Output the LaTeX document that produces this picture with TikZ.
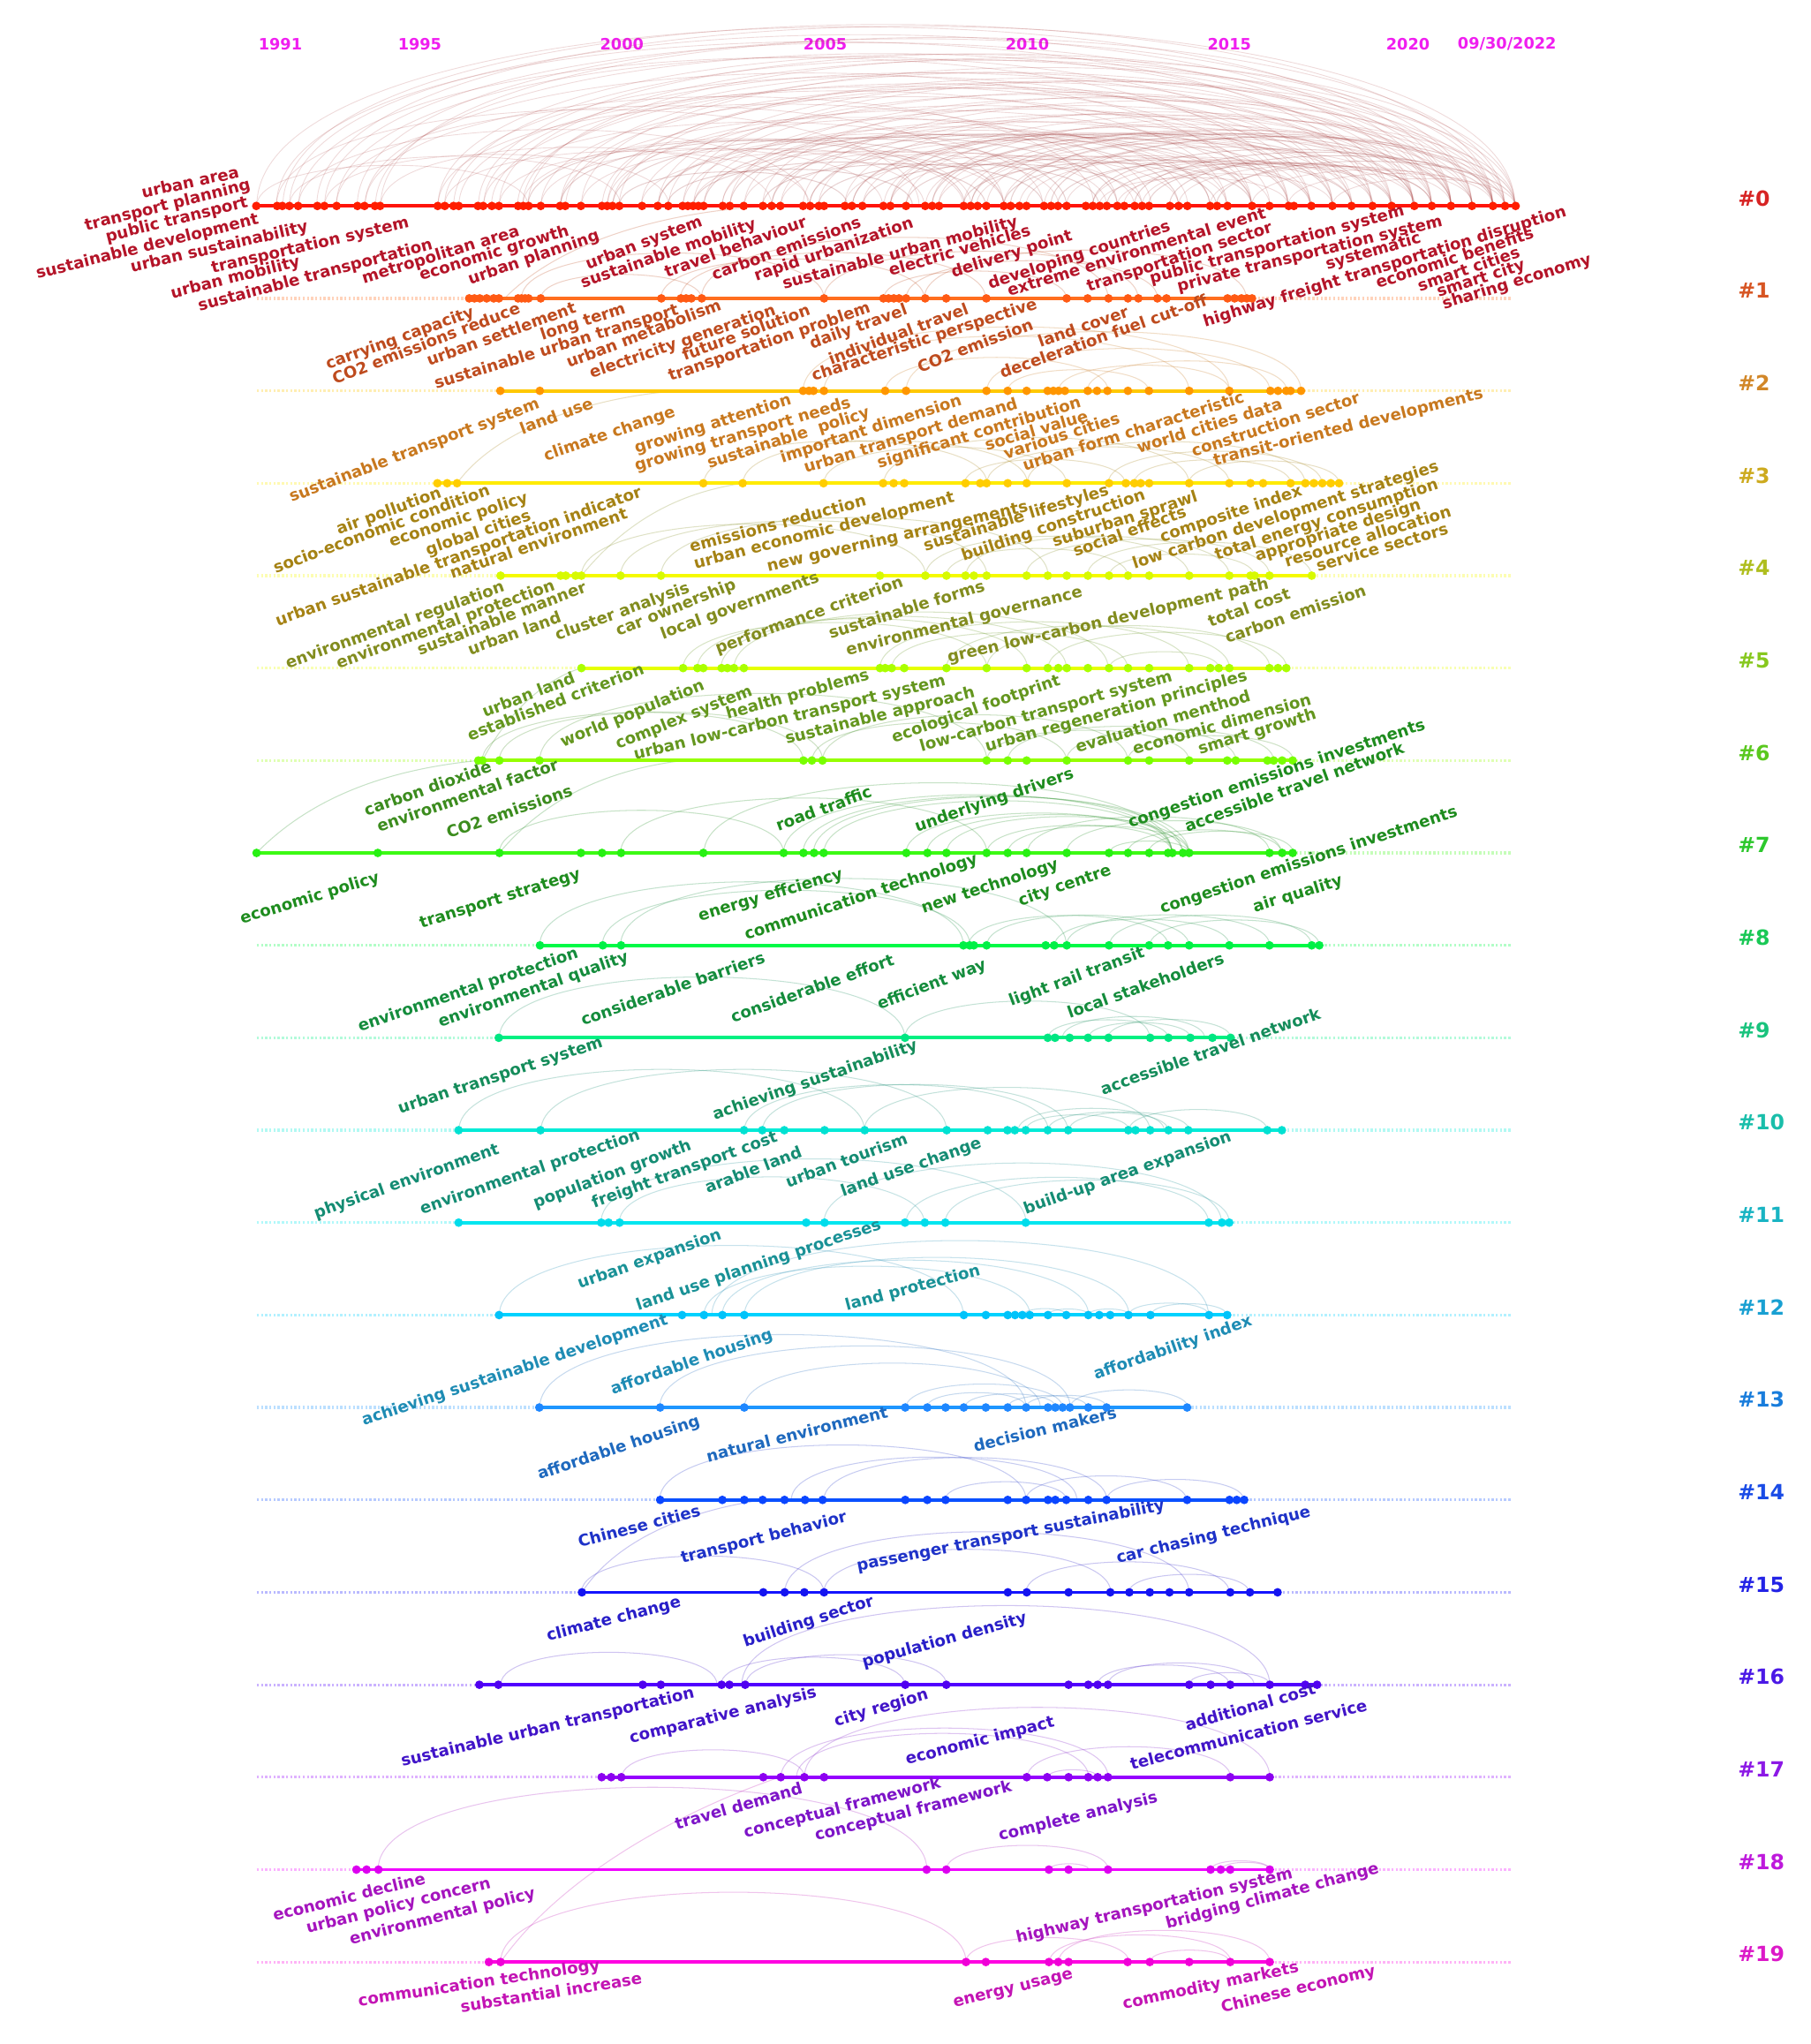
\documentclass[tikz,border=0pt]{standalone}
\usepackage{fontspec}
\setmainfont{DejaVu Sans}
% line colours
\definecolor{L0}{RGB}{255,20,10}\definecolor{L1}{RGB}{255,110,30}\definecolor{L2}{RGB}{255,200,0}\definecolor{L3}{RGB}{255,235,0}
\definecolor{L4}{RGB}{245,250,0}\definecolor{L5}{RGB}{230,255,0}\definecolor{L6}{RGB}{150,255,0}\definecolor{L7}{RGB}{60,250,20}
\definecolor{L8}{RGB}{0,250,70}\definecolor{L9}{RGB}{0,240,130}\definecolor{L10}{RGB}{0,235,215}\definecolor{L11}{RGB}{0,230,240}
\definecolor{L12}{RGB}{0,210,255}\definecolor{L13}{RGB}{30,150,255}\definecolor{L14}{RGB}{10,80,255}\definecolor{L15}{RGB}{20,20,255}
\definecolor{L16}{RGB}{80,0,255}\definecolor{L17}{RGB}{150,0,255}\definecolor{L18}{RGB}{240,0,255}\definecolor{L19}{RGB}{255,0,225}
% dot colours
\definecolor{D0}{RGB}{255,30,0}\definecolor{D1}{RGB}{255,90,20}\definecolor{D2}{RGB}{255,150,0}\definecolor{D3}{RGB}{255,205,0}
\definecolor{D4}{RGB}{215,250,0}\definecolor{D5}{RGB}{170,255,0}\definecolor{D6}{RGB}{120,255,0}\definecolor{D7}{RGB}{40,240,20}
\definecolor{D8}{RGB}{0,240,70}\definecolor{D9}{RGB}{0,230,130}\definecolor{D10}{RGB}{0,225,210}\definecolor{D11}{RGB}{0,220,235}
\definecolor{D12}{RGB}{0,195,250}\definecolor{D13}{RGB}{30,135,255}\definecolor{D14}{RGB}{10,70,255}\definecolor{D15}{RGB}{20,20,240}
\definecolor{D16}{RGB}{80,0,240}\definecolor{D17}{RGB}{140,0,240}\definecolor{D18}{RGB}{220,0,240}\definecolor{D19}{RGB}{240,0,215}
% text colours
\definecolor{T0}{RGB}{180,20,40}\definecolor{T1}{RGB}{190,75,30}\definecolor{T2}{RGB}{200,120,30}\definecolor{T3}{RGB}{165,130,20}
\definecolor{T4}{RGB}{130,140,30}\definecolor{T5}{RGB}{100,150,30}\definecolor{T6}{RGB}{60,140,30}\definecolor{T7}{RGB}{30,140,30}
\definecolor{T8}{RGB}{20,140,60}\definecolor{T9}{RGB}{20,140,90}\definecolor{T10}{RGB}{20,140,115}\definecolor{T11}{RGB}{25,145,150}
\definecolor{T12}{RGB}{30,140,180}\definecolor{T13}{RGB}{30,105,190}\definecolor{T14}{RGB}{30,50,200}\definecolor{T15}{RGB}{40,30,200}
\definecolor{T16}{RGB}{65,20,200}\definecolor{T17}{RGB}{125,20,200}\definecolor{T18}{RGB}{165,20,190}\definecolor{T19}{RGB}{195,20,180}
% cluster label colours
\definecolor{C0}{RGB}{215,35,35}\definecolor{C1}{RGB}{215,85,35}\definecolor{C2}{RGB}{210,135,40}\definecolor{C3}{RGB}{205,170,30}
\definecolor{C4}{RGB}{175,190,30}\definecolor{C5}{RGB}{135,200,30}\definecolor{C6}{RGB}{90,200,30}\definecolor{C7}{RGB}{45,200,45}
\definecolor{C8}{RGB}{25,200,85}\definecolor{C9}{RGB}{25,195,125}\definecolor{C10}{RGB}{25,190,170}\definecolor{C11}{RGB}{25,180,195}
\definecolor{C12}{RGB}{25,160,210}\definecolor{C13}{RGB}{25,125,220}\definecolor{C14}{RGB}{25,75,230}\definecolor{C15}{RGB}{35,35,230}
\definecolor{C16}{RGB}{75,25,230}\definecolor{C17}{RGB}{140,25,230}\definecolor{C18}{RGB}{190,25,220}\definecolor{C19}{RGB}{220,25,200}
\definecolor{YR}{RGB}{240,30,240}
\definecolor{A0}{RGB}{175,70,70}
\definecolor{A1}{RGB}{150,45,45}

\tikzset{
  kw/.style={font=\fontsize{12.3}{13}\selectfont\bfseries, inner sep=0pt, anchor=base west},
  clabel/.style={font=\fontsize{16}{16}\selectfont\bfseries, inner sep=0pt, anchor=west},
  yearlbl/.style={font=\fontsize{12}{12}\selectfont\bfseries, inner sep=0pt, text=YR},
  dashrow/.style={line width=2.2pt, dash pattern=on 1.6pt off 1.6pt},
  solidrow/.style={line width=2.6pt},
  arcln/.style={line width=0.7pt, draw opacity=0.25},
  arczero/.style={line width=0.6pt, draw=A0, draw opacity=0.2},
  arczerob/.style={line width=0.7pt, draw=A1, draw opacity=0.22},
}

\newcommand\tlarcs[3]{%
  \foreach \a/\b in {#3} \draw[arcln, T#1] (\a,#2) .. controls (\a,{#2-0.2*(\b-\a)}) and (\b,{#2-0.2*(\b-\a)}) .. (\b,#2);
}
\newcommand\tldash[2]{\draw[dashrow, L#1!30] (197,#2) -- (1160,#2);}
\newcommand\tlrow[6]{%
  \draw[solidrow, L#1] (#3,#2) -- (#4,#2);
  \foreach \x in {#5} \fill[D#1] (\x,#2) circle (3.3pt);
  \foreach \x/\y/\r/\t [count=\i] in {#6} \node[kw, rotate=\r, text=T#1] (t#1-\i) at (\x,\y) {\t};
  \node[clabel, text=C#1] (c#1) at (1333,{#2-6}) {\##1};
}

\begin{document}
\begin{tikzpicture}[x=1pt,y=-1pt]
\useasboundingbox (0,0) rectangle (1389,1568);
\fill[white] (0,0) rectangle (1389,1568);

% year axis
\foreach \x/\t/\n in {215/1991/ya,322/1995/yb,477/2000/yc,633/2005/yd,788/2010/ye,943/2015/yf,1080/2020/yg,1156/09\slash30\slash2022/yh}
  \node[yearlbl] (\n) at (\x,34) {\t};

% dashed guides
\foreach \k in {0,...,19} {\tldash{\k}{158+70.9*\k}}

% arcs of cluster #0
\foreach \a/\b in {197/1113,212/1052,217/1145,222/1098,229/988,243/1162,249/1084,258/1022,274/1129,280/960,288/1067,292/1154,336/1113,341/1005,348/1098,352/941,367/1145,371/1052,377/988,383/1129,397/1022,401/1084,405/1162,415/974,430/1113,434/1037,446/1154,462/1067,466/1098,470/960,475/1129,492/1005,505/1145,513/1084,524/1162,532/1113,540/1036,554/988,560/1113,571/1084,585/1145,592/1022,599/1067,616/1154,621/960,628/1098,648/1129,654/1005,662/1037,678/1084,683/1145,695/1113,710/1052,715/1162,720/1098,739/1129,745/1067,757/1145,770/1113,782/1084,801/1154,212/705,229/620,258/770,280/839,336/857,371/800,401/745,430/883,466/911,505/876,524/928,554/941,197/405,222/476,249/513,292/592,341/621,383/677,415/709,446/739,492/770,532/812,571/849,599/870,648/904,683/941,720/974,749/1006,787/1037,818/1053,838/1068,862/1085,876/1098,904/1113,928/1130,960/1145,988/1154,1022/1162,857/1022,843/988}
  \draw[arczero] (\a,158) .. controls (\a,{158-0.2*(\b-\a)}) and (\b,{158-0.2*(\b-\a)}) .. (\b,158);
\foreach \a/\b in {405/740,430/770,470/818,505/857,540/904,560/928,592/960,621/988,654/1022,683/1053,715/1085,745/1113,775/1145,806/1162,838/1129,870/1145,897/1154,933/1162,475/650,512/700,532/756,585/800,628/843,662/876,695/933,739/960,770/1005,811/1037,849/1067,881/1098}
  \draw[arczerob] (\a,158) .. controls (\a,{158-0.2*(\b-\a)}) and (\b,{158-0.2*(\b-\a)}) .. (\b,158);

% arcs of other clusters
\tlarcs{1}{228.9}{507/709,522/756,538/850,632/873,678/818,695/888,709/956,400/632,415/538}
\tlarcs{2}{299.8}{616/943,632/912,679/850,695/998,757/974,773/881,812/943,834/987}
\tlarcs{3}{370.7}{540/757,570/788,632/818,678/912,740/863,757/943,788/1001,850/1014,870/990,912/1027}
\tlarcs{4}{441.6}{446/710,476/757,507/804,710/912,726/865,741/943,787/974,834/1006,851/962}
\tlarcs{5}{512.5}{524/757,535/788,553/818,563/850,675/912,684/865,726/943,757/974,804/987,851/935}
\tlarcs{6}{583.4}{370/616,383/631,414/757,623/818,631/865,757/912,773/948,818/977,865/992}
\tlarcs{7}{654.3}{383/601,476/757,540/899,601/899,616/907,624/912,632/899,695/899,711/907,726/912,757/899,773/912,788/974,818/983,851/912,865/983,881/992}
\tlarcs{8}{725.2}{414/739,462/744,476/818,743/896,757/912,809/943,818/974,851/1006,882/1012}
\tlarcs{9}{796.1}{383/694,694/882,804/896,815/924,835/913,850/944}
\tlarcs{10}{867}{352/663,415/726,571/804,585/819,663/882,781/893,787/866,804/896,820/912,866/972}
\tlarcs{11}{937.9}{461/787,475/709,632/937,695/927,725/943}
\tlarcs{12}{1008.8}{383/739,546/927,571/866,554/835,540/790,785/818,804/835,835/866,866/927,883/941}
\tlarcs{13}{1079.7}{414/787,506/821,571/798,695/815,711/787,740/810,773/834,821/911,787/849}
\tlarcs{14}{1150.6}{506/787,607/826,632/849,725/818,787/910,849/954}
\tlarcs{15}{1221.5}{446/632,602/912,632/852,787/943,866/958}
\tlarcs{16}{1292.4}{384/550,569/974,553/694,850/962,842/943,912/974,572/726}
\tlarcs{17}{1363.3}{611/835,617/974,477/617,599/850,788/944,804/842}
\tlarcs{18}{1434.2}{290/711,805/835,726/850,929/974,937/974}
\tlarcs{19}{1505.1}{384/741,812/974,805/944,741/866,882/943}

% links between clusters
\draw[arcln, T1] (387,228.9) .. controls (430,185) and (510,162) .. (592,158);
\draw[arcln, T3] (350.6,370.7) .. controls (380,330) and (450,305) .. (520,299.8);
\draw[arcln, T4] (446,441.6) .. controls (480,400) and (520,378) .. (570,370.7);
\draw[arcln, T6] (370,583.4) .. controls (390,545) and (420,520) .. (446,512.5);
\draw[arcln, T7] (196.8,654.3) .. controls (240,610) and (300,590) .. (367,583.4);
\draw[arcln, T7] (383,654.3) .. controls (420,610) and (470,590) .. (524,583.4);
\draw[arcln, T15] (446.4,1221.5) .. controls (470,1185) and (520,1160) .. (585,1150.6);
\draw[arcln, T19] (384,1505.1) .. controls (430,1440) and (520,1390) .. (598,1363.3);

% rows
\tlrow{0}{158}{196.6}{1162.6}{196.6,212.6,216.6,222,228.7,243.4,248.8,258.2,274.2,279.6,287.6,291.6,335.8,341.2,347.9,351.9,366.6,370.6,377.3,382.7,397.4,401.4,405.5,414.8,429.6,433.6,445.6,461.7,465.7,469.8,475.1,492.5,504.5,512.6,523.6,527.6,531.6,535.7,539.7,554.4,559.8,570.5,585.2,591.9,598.6,616,621.4,628.1,632.1,648.1,653.5,661.5,677.6,683,695,709.7,715.1,720.4,739.2,744.5,749.9,756.6,770,775.3,782,787.4,800.8,806.2,811.5,818.2,832.9,838.3,843.6,849,857,862.4,870.4,876,881.4,897.4,904.1,910.8,928.2,933.6,941.6,960.4,973.8,988.5,992.5,1005.9,1022,1036.7,1052.8,1067.5,1084.9,1098.3,1113,1129.1,1145.2,1154.5,1162.6}
{109.5/152/12/urban area, 66/177/14/transport planning, 82/185.8/14/public transport, 28.7/214/14/sustainable development, 101/209/13/urban sustainability, 163/209.5/13/transportation system, 132/229/14/urban mobility, 153/239/15/sustainable transportation, 279/217.5/17/metropolitan area, 323/215.3/17/economic growth, 360.5/218.4/19/urban planning, 451/207/21/urban system, 447/221/19/sustainable mobility, 511.5/213/20/travel behaviour, 547.7/215.2/20/carbon emissions, 580/216/19/rapid urbanization, 601.3/221.9/15/sustainable urban mobility, 683/211.8/16/electric vehicles, 731/213/17.5/delivery point, 759.3/221.9/18/developing countries, 774/227.5/17/extreme environmental event, 835/224/18/transportation sector, 883/217.5/15/public transportation system, 904/223.7/14/private transportation system, 1018/206.8/16/systematic, 924.2/250.7/17/highway freight transportation disruption, 1056.8/221.5/18/economic benefits, 1089/223.7/19/smart cities, 1103.6/228.2/18/smart city, 1107.7/237.2/17/sharing economy}

\tlrow{1}{228.9}{359.9}{960.4}{359.9,363.9,368,373.3,378.7,382.7,397.4,400.1,402.8,405.4,414.8,507.3,522.3,526.3,530.3,538.3,632.1,677.6,681.6,685.6,689.6,695,709.7,725.8,756.6,818.2,834.3,850.3,865.2,873.2,887.8,894.8,941.6,947,952.3,956.4,960.4}
{251.5/283.6/20/carrying capacity, 256.8/295/21/CO2 emissions reduce, 329/281/20/urban settlement, 416/261/18/long term, 334.5/298.4/17/sustainable urban transport, 436.2/282.5/21/urban metabolism, 453.7/290.4/19/electricity generation, 524.9/276.9/20/future solution, 514.2/292.6/19/transportation problem, 622.7/267.9/20/daily travel, 637.4/280.2/20.5/individual travel, 624/292.6/18/characteristic perspective, 705.7/285.9/21/CO2 emission, 798/266.8/19.5/land cover, 768.6/290.3/19.5/deceleration fuel cut-off}

\tlrow{2}{299.8}{383.8}{998}{383.8,414.1,616,620.5,624,632,679,695,756.7,773,787.5,803.6,808,812,816.8,834.4,841.5,849.5,865.2,881.3,912.2,943,974.5,980.3,986.7,990,998}
{223.6/385.4/20.8/sustainable transport system, 400.5/333.4/20.5/land use, 418.6/353.7/19/climate change, 488.1/348.1/17.6/growing attention, 488.1/361.6/16.6/growing transport needs, 544/359.4/17.7/sustainable\ \ policy, 600/355/17.8/important dimension, 618/363/17/urban transport demand, 674.2/359.4/16.8/significant contribution, 756.8/345.8/16.3/social value, 771.3/352.6/17.6/various cities, 785.9/361.6/17.5/urban form characteristic, 873.4/348.1/17.2/world cities data, 915.5/350.4/17.9/construction sector, 931.7/357.1/14/transit-oriented developments}

\tlrow{3}{370.7}{335.5}{1027.2}{335.5,343,350.6,539.5,569.7,631.7,677.4,685.5,693.6,740.6,751.9,756.8,773,787.5,818.3,850.7,863.6,870.1,875,881.5,912.2,943,959.2,968.9,990,1001.3,1007.8,1014.3,1020.8,1027.2}
{259.6/410.4/20/air pollution, 211.4/439.7/20/socio-economic condition, 300/419.5/18/economic policy, 328/426.2/19/global cities, 212.9/480.3/19.5/urban sustainable transportation indicator, 346.7/444.3/19/natural environment, 530.1/424/15/emissions reduction, 533.3/436.4/14.4/urban economic development, 589.2/438.6/13/new governing arrangements, 709.8/422.8/17/sustainable lifestyles, 739/430.7/18.8/building construction, 808.6/419.5/17.4/suburban sprawl, 824.8/427.4/19.9/social effects, 891.2/416.1/18.4/composite index, 870.1/436.4/17.8/low carbon development strategies, 933.3/429.6/17.8/total energy consumption, 964.1/430.7/17.6/appropriate design, 986.7/435.2/17.1/resource allocation, 1011/438.6/16/service sectors}

\tlrow{4}{441.6}{384}{1006.2}{384,430,434,441.5,446,476,507,675,709.8,726,740.6,747,756.8,787.5,803.7,818.3,834.5,850.7,865.3,881.5,912.2,943,959.2,962.4,973.8,1006.2}
{220.7/513/19.6/environmental regulation, 259.6/513/20/environmental protection, 321.8/502.9/20.8/sustainable manner, 360.6/502.9/20/urban land, 427.5/491.6/20.2/cluster analysis, 474.2/488.2/22/car ownership, 508.4/490.5/20.2/local governments, 550.4/501.7/19.9/performance criterion, 637/490/17.2/sustainable forms, 649.9/502.9/14/environmental governance, 727.6/508.5/13/green low-carbon development path, 928.4/481.4/20/total cost, 941.4/493.8/19.2/carbon emission}

\tlrow{5}{512.5}{446}{986.7}{446,524,535,539.5,553.5,558,563,570.6,675,679,684,693.6,726,756.8,787.5,803.7,811.8,818.3,834.5,850.7,865.3,881.5,912.2,928.4,934.9,943,973.8,980.3,986.7}
{371.7/550.5/21/urban land, 360.4/568.6/21/established criterion, 431.7/573.1/22/world population, 474/575/22/complex system, 487/583/13.5/urban low-carbon transport system, 558/551.7/15.5/health problems, 603.3/570.9/14/sustainable approach, 685.5/569.7/19/ecological footprint, 706.6/576.5/15.7/low-carbon transport system, 756.8/576.5/15.2/urban regeneration principles, 826.4/577.7/16.7/evaluation menthod, 870.1/578.8/15.7/economic dimension, 920.3/578.8/17/smart growth}

\tlrow{6}{583.4}{366.9}{991.6}{366.9,370.1,383.1,413.8,616.3,622.8,630.9,756.8,773,787.5,818.3,865.3,881.5,912.2,941.4,947.9,972.2,977,983.5,991.6}
{281/626.3/19.6/carbon dioxide, 290.8/638.7/19.4/environmental factor, 344.2/643.3/19/CO2 emissions}

\tlrow{7}{654.3}{196.8}{991.6}{196.8,289.8,383.1,445.6,461.8,476.4,539.5,601.1,616.3,624.4,631.8,695.2,711.4,726,756.8,773,787.5,818.3,850.7,865.3,881.5,896,899.3,907.4,912.2,973.8,983.5,991.6}
{596.9/637.6/20/road traffic, 703.3/638.3/19/underlying drivers, 866.9/635.3/18.5/congestion emissions investments, 910.6/638.3/20/accessible travel network, 185.5/708.9/17/economic policy, 323.2/712.3/17.4/transport strategy, 536.9/706.6/16.6/energy effciency, 572.6/721.3/18.3/communication technology, 708.2/700.9/18.4/new technology, 782.7/695.3/19.3/city centre, 891.2/700.9/18.2/congestion emissions investments, 962.4/699.8/17/air quality}

\tlrow{8}{725.2}{414.2}{1012}{414.2,462.4,476.4,739,743.8,747,756.8,802.1,808.6,818.3,850.7,881.5,896,912.2,943,973.8,1006.2,1012}
{276/791.4/18.6/environmental protection, 337.7/788/19.2/environmental quality, 447.2/786.9/19.1/considerable barriers, 562.3/784.7/19.7/considerable effort, 674.6/774.5/20.6/efficient way, 775.6/772.2/20.3/light rail transit, 820.5/781.3/19.6/local stakeholders}

\tlrow{9}{796.1}{382.6}{944}{382.6,694.2,803.7,809.3,820.5,834.6,850.3,882.3,896.3,913.1,930,944}
{306.8/854.7/18.4/urban transport system, 548.2/859.2/19.1/achieving sustainability, 845.8/840/19.3/accessible travel network}

\tlrow{10}{867}{351.8}{983.3}{351.8,414.6,570.7,584.7,601.6,632.5,663.3,726.2,757.6,772.8,778.4,786.8,803.7,819.4,865.5,871,882.3,896.3,911.5,972.1,983.3}
{242.3/934.8/19.5/physical environment, 323.7/931.4/18.9/environmental protection, 410.7/926.9/20.5/population growth, 455.6/926.9/20/freight transport cost, 542.6/915.6/21/arable land, 604.4/911.1/20.1/urban tourism, 646.5/917.9/19.4/land use change, 786.8/931.4/19.5/build-up area expansion}

\tlrow{11}{937.9}{351.8}{942.9}{351.8,461.2,466.8,475.3,618.4,632.5,694.2,709.4,725.1,786.8,927.2,937.3,942.9}
{444.6/988.7/19.3/urban expansion, 489.5/1005.6/18.6/land use planning processes, 649.5/1005.6/15/land protection}

\tlrow{12}{1008.8}{382.8}{941.4}{382.8,523.2,540,554.1,570.9,739.3,756.2,773,778.6,784.2,789.9,803.9,817.9,834.8,843.2,851.6,865.6,882.5,927.4,941.4}
{279/1093.5/18.3/achieving sustainable development, 469.9/1069.9/19.2/affordable housing, 840.4/1058.6/19.2/affordability index}

\tlrow{13}{1079.7}{413.7}{910.6}{413.7,506.4,570.9,694.4,711.3,725.3,739.3,756.2,773,787.1,803.9,809.5,815.1,820.7,834.8,848.8,910.6}
{413.7/1135.2/18.7/affordable housing, 542.9/1121.7/14/natural environment, 747.8/1113.8/13.5/decision makers}

\tlrow{14}{1150.6}{506.4}{954.4}{506.4,554.1,570.9,585,601.8,617.5,631,694.4,711.3,725.3,773,787.1,803.9,809.5,817.9,834.8,848.8,910.6,943.1,948.7,954.4}
{444.6/1187.1/14.6/Chinese cities, 523.2/1199.5/14.2/transport behavior, 657.9/1205.1/11.2/passenger transport sustainability, 857.3/1199.5/13.8/car chasing technique}

\tlrow{15}{1221.5}{446.4}{980}{446.4,585.5,601.9,617,632.1,773.1,787.6,819.7,851.7,866.3,882,897.1,912.2,943.7,958.8,980}
{420.4/1259/14.5/climate change, 571.6/1263.7/17.9/building sector, 662.4/1279.2/15.3/population density}

\tlrow{16}{1292.4}{367.7}{1010.3}{367.7,382.3,493,506.9,553.5,559.5,571.6,694.4,725.9,819.7,834.8,842,849.9,912.2,928.6,943.7,974,1001.2,1010.3}
{308.5/1355.1/13.2/sustainable urban transportation, 483.9/1337.3/13.9/comparative analysis, 641.2/1324.3/16.4/city region, 695.7/1353.9/14.6/economic impact, 910.4/1327.8/15.9/additional cost, 868.1/1357.5/14.1/telecommunication service}

\tlrow{17}{1363.3}{461.5}{974}{461.5,468.8,476.6,585.5,598.9,617,632.1,787.6,803.3,819.7,834.8,842,849.9,943.7,974}
{519/1403.7/16/travel demand, 571.6/1409.7/14.3/conceptual framework, 626.1/1412.1/14.3/conceptual framework, 767/1412.1/13.7/complete analysis}

\tlrow{18}{1434.2}{273.4}{974}{273.4,281.2,290.3,710.8,725.9,804.6,819.7,849.9,928.6,936.4,943.7,974}
{210.4/1473.7/13.9/economic decline, 235.9/1483.2/14/urban policy concern, 269.1/1491.5/14/environmental policy, 780.4/1490.4/13.1/highway transportation system, 895.3/1479.7/14.7/bridging climate change}

\tlrow{19}{1505.1}{375}{974}{375,384,741,756.2,804.6,811.8,819.7,865,882,912.2,943.7,974}
{275.2/1539/8.5/communication technology, 353.8/1543.8/9/substantial increase, 732/1540.2/14/energy usage, 862/1541.4/12/commodity markets, 937.6/1543.8/13.5/Chinese economy}

\end{tikzpicture}
\end{document}
